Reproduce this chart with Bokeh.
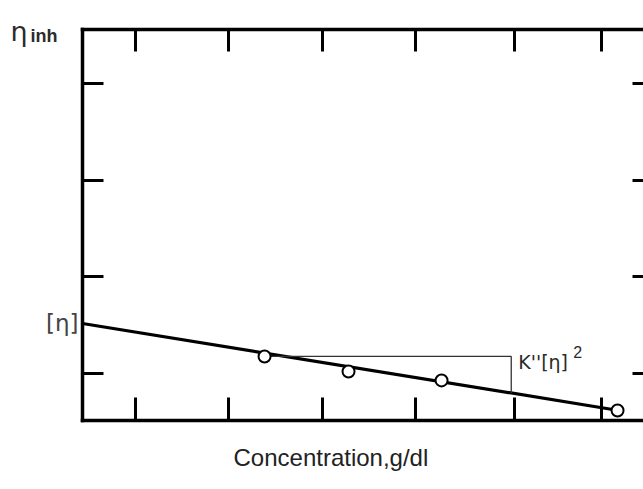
from bokeh.plotting import figure
from bokeh.models import Range1d, LinearAxis, FixedTicker, Label
from bokeh.embed import file_html
from bokeh.resources import INLINE

# Inherent viscosity vs. concentration (schematic, arbitrary units)
X_TICKS = [0.57, 1.56, 2.57, 3.57, 4.62, 5.56]
Y_TICKS = [1, 2, 3, 4]

# plotting box (the right edge runs just past the page)
X_START, X_END = 0.0, 6.113
Y_START, Y_END = 0.514, 4.557
# visible window around the box
VIEW_X = (-0.878, 6.006)
VIEW_Y = (-0.200, 4.857)

C_PTS = [1.949, 2.848, 3.844, 5.728]        # concentration of measured points
ETA_INH = [1.176, 1.021, 0.928, 0.617]      # eta_inh of measured points
ETA_INTRINSIC = 1.517                       # [eta], intercept at c = 0
SLOPE = -0.1567                             # K''[eta]^2 (negative)
C_LINE_END = 5.675
C_TRI = 4.59                                # where the slope bracket drops to the line

TXT = "#2b2b2b"
FONT = "Liberation Sans"
GREEK = "DejaVu Sans"

p = figure(width=643, height=489, output_backend="svg", toolbar_location=None,
           x_range=Range1d(*VIEW_X), y_range=Range1d(*VIEW_Y),
           x_axis_location=None, y_axis_location=None,
           min_border=0)
p.outline_line_color = None
p.grid.grid_line_color = None
p.background_fill_color = "white"
p.border_fill_color = "white"


def box_side(ticks, tick_len, at, bounds, draw_line=True):
    # one side of the box: inward ticks only, no tick labels
    return LinearAxis(ticker=FixedTicker(ticks=[], minor_ticks=ticks),
                      fixed_location=at, bounds=bounds,
                      major_tick_in=0, major_tick_out=0,
                      minor_tick_in=tick_len, minor_tick_out=0,
                      minor_tick_line_width=3, minor_tick_line_color="black",
                      axis_line_width=3.5, axis_line_cap="square",
                      axis_line_color="black" if draw_line else None)


p.add_layout(box_side(X_TICKS, 23, Y_START, (X_START, X_END)), "below")
p.add_layout(box_side(X_TICKS, 22, Y_END, (X_START, X_END)), "above")
p.add_layout(box_side(Y_TICKS, 21, X_START, (Y_START, Y_END)), "left")
p.add_layout(box_side(Y_TICKS, 21, X_END, (Y_START, Y_END)), "right")

# fitted straight line from the intercept [eta]
p.line([X_START, C_LINE_END],
       [ETA_INTRINSIC + SLOPE * X_START, ETA_INTRINSIC + SLOPE * C_LINE_END],
       line_color="black", line_width=3.2)

# slope bracket
y_h = ETA_INH[0]
p.line([C_PTS[0], C_TRI, C_TRI],
       [y_h, y_h, ETA_INTRINSIC + SLOPE * C_TRI],
       line_color="#333333", line_width=1.3)

p.scatter(C_PTS, ETA_INH, size=12, fill_color="white", line_color="black", line_width=2)

p.add_layout(Label(x=C_TRI, y=y_h, x_offset=7, y_offset=-6, text="K''[η]",
                   text_font=GREEK, text_font_size="19px", text_color=TXT,
                   text_baseline="alphabetic"))
p.add_layout(Label(x=C_TRI, y=y_h, x_offset=62, y_offset=4, text="2",
                   text_font=FONT, text_font_size="16px", text_color=TXT,
                   text_baseline="alphabetic"))

p.add_layout(Label(x=X_START, y=ETA_INTRINSIC, x_offset=-4, text="[η]",
                   text_font=GREEK, text_font_size="23px", text_color="#444444",
                   text_align="right", text_baseline="middle"))

p.add_layout(Label(x=X_START, y=Y_END, x_offset=-72, y_offset=-2, text="η",
                   text_font=GREEK, text_font_size="27px", text_color=TXT,
                   text_baseline="alphabetic"))
p.add_layout(Label(x=X_START, y=Y_END, x_offset=-52, y_offset=-6, text="inh",
                   text_font=FONT, text_font_size="18px", text_font_style="bold",
                   text_color=TXT, text_baseline="alphabetic"))

p.add_layout(Label(x=X_START, y=Y_START, x_offset=151, y_offset=-37,
                   text="Concentration,g/dl",
                   text_font=FONT, text_font_size="24px", text_color="#222222",
                   text_baseline="alphabetic"))

open("out.html", "w").write(file_html(p, INLINE))
